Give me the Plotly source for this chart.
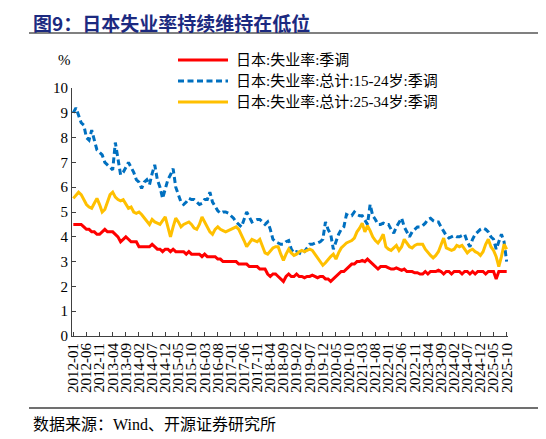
import pandas as pd
import plotly.graph_objects as go

# 月份（2012-01 至 2025-10）
months = pd.date_range('2012-01-01', '2025-10-01', freq='MS').strftime('%Y-%m').tolist()
tick_labels = months[::5]

# 日本:失业率:季调
rate_total = [4.5, 4.5, 4.5, 4.5, 4.4, 4.3, 4.3, 4.2, 4.2, 4.1, 4.1, 4.2,
              4.3, 4.2, 4.2, 4.2, 4.1, 4.0, 3.8, 3.9, 4.0, 3.9, 3.8, 3.8,
              3.8, 3.6, 3.6, 3.6, 3.6, 3.6, 3.7, 3.6, 3.5, 3.5, 3.4, 3.5,
              3.5, 3.4, 3.5, 3.4, 3.4, 3.4, 3.4, 3.3, 3.4, 3.3, 3.3, 3.3,
              3.3, 3.2, 3.3, 3.2, 3.2, 3.2, 3.2, 3.1, 3.1, 3.0, 3.0, 3.0,
              3.0, 3.0, 3.0, 2.9, 2.9, 2.9, 2.9, 2.8, 2.8, 2.8, 2.8, 2.7,
              2.7, 2.7, 2.5, 2.4, 2.5, 2.5, 2.4, 2.3, 2.2, 2.4, 2.5, 2.4,
              2.4, 2.5, 2.4, 2.4, 2.35, 2.4, 2.4, 2.45, 2.4, 2.35, 2.4, 2.4,
              2.3, 2.3, 2.2, 2.3, 2.4, 2.5, 2.6, 2.6, 2.7, 2.8, 2.9, 2.9,
              3.0, 3.0, 3.05, 3.0, 3.1, 3.0, 2.9, 2.8, 2.7, 2.8, 2.8, 2.8,
              2.75, 2.7, 2.7, 2.75, 2.7, 2.65, 2.7, 2.6, 2.6, 2.6, 2.55, 2.55,
              2.5, 2.5, 2.6, 2.5, 2.6, 2.6, 2.6, 2.65, 2.6, 2.5, 2.6, 2.6,
              2.5, 2.6, 2.6, 2.6, 2.5, 2.6, 2.6, 2.5, 2.6, 2.5, 2.6, 2.6,
              2.6, 2.5, 2.6, 2.6, 2.6, 2.3, 2.6, 2.6, 2.6, 2.6]

# 日本:失业率:总计:15-24岁:季调
rate_15_24 = [9.0, 9.2, 8.9, 8.6, 8.5, 8.0, 7.9, 8.3, 7.9, 7.5, 7.4, 7.3,
              7.0, 6.9, 6.8, 6.7, 7.8, 7.1, 6.5, 6.6, 6.8, 7.0, 6.8, 6.6,
              6.3, 6.2, 5.95, 6.2, 6.3, 6.1, 6.55, 6.9, 6.3, 6.0, 5.55, 5.9,
              6.3, 6.5, 6.75, 6.0, 5.7, 5.4, 5.3, 5.4, 5.55, 5.5, 5.5, 5.4,
              5.3, 5.35, 5.5, 5.5, 5.8, 5.4, 5.2, 5.05, 4.95, 5.0, 5.0, 4.95,
              4.85, 4.75, 4.6, 4.5, 4.4, 4.7, 5.0, 4.8, 4.6, 4.65, 4.7, 4.7,
              4.6, 4.5, 4.6, 4.3, 3.9, 3.8, 3.75, 3.7, 3.7, 3.8, 3.85, 3.5,
              3.35, 3.4, 3.35, 3.3, 3.4, 3.55, 3.7, 3.7, 3.75, 3.75, 3.8, 3.9,
              4.6, 4.3, 4.1, 3.5, 3.8, 4.1, 4.3, 4.4, 4.9, 4.85, 4.85, 5.0,
              4.9, 4.85, 4.85, 4.7, 4.5, 5.3, 4.85, 4.7, 4.5, 4.5, 4.55, 4.5,
              4.5, 4.3, 4.15, 4.4, 4.6, 4.75, 4.4, 4.2, 4.0, 4.2, 4.3, 4.4,
              4.4, 4.45, 4.55, 4.7, 4.75, 4.65, 4.6, 4.6, 4.4, 4.2, 4.05, 3.95,
              4.0, 4.05, 4.0, 4.0, 4.05, 4.1, 3.8, 3.6, 3.9, 4.1, 4.2, 4.3,
              4.35, 4.3, 4.2, 4.0, 3.9, 3.5, 3.8, 4.1, 3.8, 3.0]

# 日本:失业率:总计:25-34岁:季调
rate_25_34 = [5.55, 5.7, 5.8, 5.7, 5.5, 5.3, 5.2, 5.15, 5.35, 5.55, 5.3, 5.0,
              5.1, 5.4, 5.7, 5.8, 5.6, 5.5, 5.45, 5.5, 5.3, 5.15, 5.2, 5.0,
              4.95, 5.0, 4.9, 4.75, 4.6, 4.5, 4.7, 4.6, 4.55, 4.5, 4.65, 4.8,
              4.4, 4.0, 4.4, 4.75, 4.6, 4.4, 4.5, 4.55, 4.6, 4.5, 4.35, 4.3,
              4.5, 4.8, 4.6, 4.45, 4.2, 4.1, 4.3, 4.4, 4.3, 4.25, 4.2, 4.25,
              4.3, 4.35, 4.4, 4.3, 4.1, 3.85, 3.6, 3.75, 3.9, 3.85, 3.8, 3.9,
              3.6, 3.35, 3.3, 3.45, 3.55, 3.6, 3.6, 3.3, 3.05, 3.3, 3.5, 3.35,
              3.25, 3.3, 3.4, 3.45, 3.4, 3.45, 3.5, 3.45, 3.3, 3.15, 2.95, 2.85,
              2.95, 3.1, 3.2, 3.3, 3.1, 3.35, 3.55, 3.65, 3.75, 3.8, 3.85, 3.95,
              4.2, 4.35, 4.55, 4.2, 4.45, 4.25, 4.0, 3.85, 3.75, 3.9, 4.1, 3.6,
              3.5, 3.45, 3.55, 3.65, 3.45, 3.6, 3.9, 3.75, 3.6, 3.55, 3.65, 3.7,
              3.7, 3.7, 3.5, 3.35, 3.25, 3.15, 3.25, 3.4, 3.7, 3.95, 3.55, 3.5,
              3.45, 3.5, 3.65, 3.6, 3.65, 3.5, 3.35, 3.45, 3.5, 3.4, 3.35, 3.25,
              3.4, 3.7, 3.9, 3.6, 3.45, 3.2, 2.8, 3.2, 3.7, 3.5]

series = [
    ('日本:失业率:季调', rate_total, '#FF0000', 'solid'),
    ('日本:失业率:总计:15-24岁:季调', rate_15_24, '#0070C0', '6px,3.5px'),
    ('日本:失业率:总计:25-34岁:季调', rate_25_34, '#FFC000', 'solid'),
]

# a página tem margem de 8px no body; a figura é deslocada por isso
OFF = 8
W, H = 546 - OFF, 439 - OFF
L, R, T, B = 72 - OFF, 38, 88 - OFF, 103
pw, ph = W - L - R, H - T - B

def px(x):
    # x em pixels da janela -> coordenada paper
    return (x - OFF - L) / pw

def py(y):
    return (H - B - (y - OFF)) / ph

serif = 'Liberation Serif, Noto Sans CJK SC'

fig = go.Figure()
for nome, valores, cor, estilo in series:
    fig.add_trace(go.Scatter(x=months, y=valores, mode='lines', name=nome, showlegend=False,
                             line=dict(color=cor, width=3, dash=estilo)))

# legenda desenhada à mão (linha de 50 px como no original)
shapes = []
annotations = []
for k, (nome, valores, cor, estilo) in enumerate(series):
    yy = 60 + 21 * k
    shapes.append(dict(type='line', xref='paper', yref='paper', x0=px(178), x1=px(228), y0=py(yy), y1=py(yy),
                       line=dict(color=cor, width=3, dash=estilo)))
    annotations.append(dict(text=nome, xref='paper', yref='paper', x=px(234), y=py(yy), xanchor='left',
                            yanchor='middle', showarrow=False, font=dict(family=serif, size=15, color='#000')))

# linhas horizontais do cabeçalho e rodapé
shapes.append(dict(type='line', xref='paper', yref='paper', x0=px(29), x1=px(546), y0=py(33), y1=py(33),
                   line=dict(color='#808080', width=2)))
shapes.append(dict(type='line', xref='paper', yref='paper', x0=px(29), x1=px(546), y0=py(408), y1=py(408),
                   line=dict(color='#404040', width=1.5)))

annotations.append(dict(text='<b>图9：日本失业率持续维持在低位</b>', xref='paper', yref='paper', x=px(32), y=py(8),
                        xanchor='left', yanchor='top', showarrow=False, borderpad=0,
                        font=dict(family='Noto Sans CJK SC', size=19, color='#1C2A80')))
annotations.append(dict(text='%', xref='paper', yref='paper', x=px(64), y=py(60), xanchor='center',
                        yanchor='middle', showarrow=False, font=dict(family=serif, size=15, color='#000')))
annotations.append(dict(text='数据来源：Wind、开源证券研究所', xref='paper', yref='paper', x=px(31), y=py(424),
                        xanchor='left', yanchor='middle', showarrow=False,
                        font=dict(family=serif, size=16, color='#000')))

fig.update_layout(
    width=W, height=H,
    margin=dict(l=L, r=R, t=T, b=B),
    paper_bgcolor='white', plot_bgcolor='white',
    shapes=shapes, annotations=annotations,
    xaxis=dict(type='category', range=[-0.5, len(months) - 0.5], tickmode='array',
               tickvals=tick_labels, ticktext=tick_labels, tickangle=-90,
               ticks='inside', ticklen=4, tickcolor='#404040', showline=True, linecolor='#404040',
               linewidth=1.2, showgrid=False, zeroline=False,
               tickfont=dict(family=serif, size=15, color='#000')),
    yaxis=dict(range=[0, 10], dtick=1, ticks='inside', ticklen=4, tickcolor='#404040',
               showline=True, linecolor='#404040', linewidth=1.2, showgrid=False, zeroline=False,
               tickfont=dict(family=serif, size=15, color='#000')),
)

fig.write_html('out.html')
